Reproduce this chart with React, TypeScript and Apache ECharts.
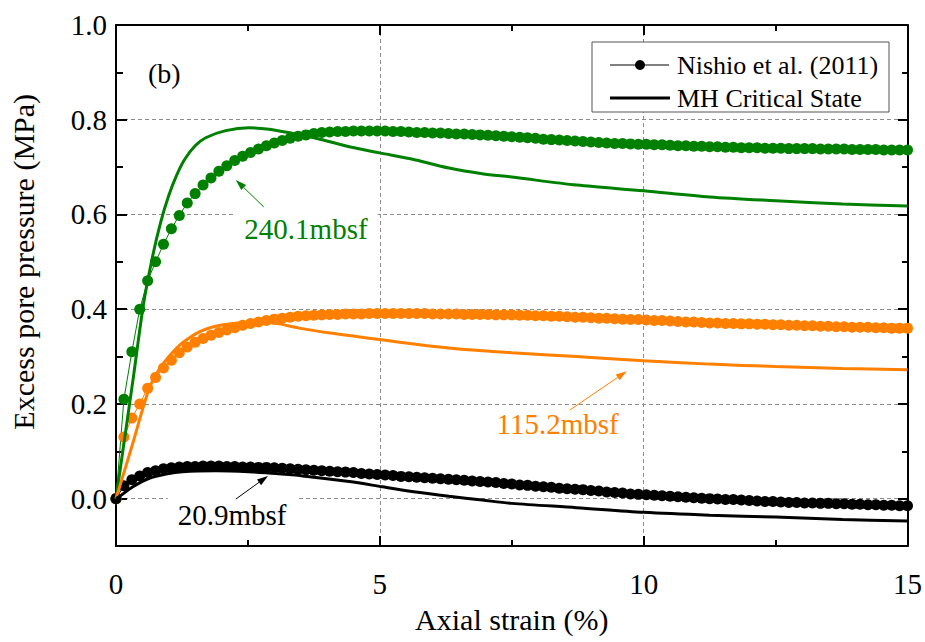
import { useEffect, useRef } from "react";
import * as echarts from "echarts";

// Axial strain (%) at which the Nishio et al. (2011) test readings were logged
const strainTest = [
  0, 0.15, 0.3, 0.45, 0.6, 0.75, 0.9, 1.05, 1.2, 1.35,
  1.5, 1.65, 1.8, 1.95, 2.1, 2.25, 2.4, 2.55, 2.7, 2.85,
  3, 3.15, 3.3, 3.45, 3.6, 3.75, 3.9, 4.05, 4.2, 4.35,
  4.5, 4.65, 4.8, 4.95, 5.1, 5.25, 5.4, 5.55, 5.7, 5.85,
  6, 6.15, 6.3, 6.45, 6.6, 6.75, 6.9, 7.05, 7.2, 7.35,
  7.5, 7.65, 7.8, 7.95, 8.1, 8.25, 8.4, 8.55, 8.7, 8.85,
  9, 9.15, 9.3, 9.45, 9.6, 9.75, 9.9, 10.05, 10.2, 10.35,
  10.5, 10.65, 10.8, 10.95, 11.1, 11.25, 11.4, 11.55, 11.7, 11.85,
  12, 12.15, 12.3, 12.45, 12.6, 12.75, 12.9, 13.05, 13.2, 13.35,
  13.5, 13.65, 13.8, 13.95, 14.1, 14.25, 14.4, 14.55, 14.7, 14.85,
  15,
];

// Measured excess pore pressure (MPa), 240.1 mbsf
const test240 = [
  0, 0.21, 0.31, 0.4, 0.46, 0.5, 0.537, 0.57, 0.598, 0.624,
  0.644, 0.662, 0.677, 0.691, 0.703, 0.714, 0.723, 0.731, 0.738, 0.745,
  0.751, 0.756, 0.761, 0.765, 0.768, 0.771, 0.773, 0.774, 0.775, 0.775,
  0.776, 0.776, 0.776, 0.776, 0.776, 0.775, 0.775, 0.774, 0.773, 0.773,
  0.772, 0.772, 0.771, 0.77, 0.77, 0.769, 0.768, 0.767, 0.766, 0.765,
  0.764, 0.763, 0.762, 0.761, 0.759, 0.758, 0.757, 0.756, 0.755, 0.754,
  0.753, 0.752, 0.751, 0.75, 0.75, 0.749, 0.748, 0.748, 0.747, 0.747,
  0.746, 0.745, 0.745, 0.744, 0.744, 0.743, 0.743, 0.742, 0.742, 0.741,
  0.741, 0.741, 0.74, 0.74, 0.74, 0.739, 0.739, 0.739, 0.739, 0.738,
  0.738, 0.738, 0.738, 0.737, 0.737, 0.737, 0.737, 0.736, 0.736, 0.736,
  0.736,
];

// Measured excess pore pressure (MPa), 115.2 mbsf
const test115 = [
  0, 0.13, 0.17, 0.2, 0.233, 0.256, 0.276, 0.292, 0.308, 0.32,
  0.33, 0.338, 0.345, 0.351, 0.356, 0.361, 0.366, 0.37, 0.373, 0.376,
  0.379, 0.381, 0.383, 0.385, 0.386, 0.387, 0.388, 0.389, 0.389, 0.39,
  0.39, 0.39, 0.391, 0.391, 0.391, 0.391, 0.391, 0.391, 0.391, 0.391,
  0.39, 0.39, 0.39, 0.39, 0.389, 0.389, 0.389, 0.389, 0.388, 0.388,
  0.388, 0.387, 0.387, 0.386, 0.386, 0.385, 0.385, 0.384, 0.383, 0.383,
  0.382, 0.381, 0.381, 0.38, 0.379, 0.378, 0.378, 0.377, 0.376, 0.376,
  0.375, 0.374, 0.373, 0.373, 0.372, 0.371, 0.371, 0.37, 0.37, 0.369,
  0.369, 0.368, 0.368, 0.367, 0.367, 0.366, 0.366, 0.365, 0.365, 0.364,
  0.364, 0.363, 0.363, 0.362, 0.362, 0.362, 0.361, 0.361, 0.36, 0.36,
  0.36,
];

// Measured excess pore pressure (MPa), 20.9 mbsf
const test209 = [
  0, 0.027, 0.04, 0.048, 0.055, 0.059, 0.063, 0.065, 0.067, 0.068,
  0.068, 0.069, 0.069, 0.069, 0.068, 0.068, 0.067, 0.067, 0.066, 0.066,
  0.065, 0.064, 0.063, 0.062, 0.061, 0.06, 0.059, 0.058, 0.057, 0.056,
  0.055, 0.053, 0.052, 0.051, 0.05, 0.049, 0.047, 0.046, 0.045, 0.044,
  0.043, 0.042, 0.041, 0.04, 0.039, 0.037, 0.036, 0.035, 0.034, 0.032,
  0.031, 0.029, 0.028, 0.026, 0.025, 0.024, 0.022, 0.021, 0.02, 0.019,
  0.017, 0.016, 0.014, 0.013, 0.012, 0.01, 0.009, 0.008, 0.007, 0.006,
  0.005, 0.004, 0.003, 0.002, 0.001, 0, -0.001, -0.002, -0.002, -0.003,
  -0.004, -0.005, -0.006, -0.006, -0.007, -0.008, -0.008, -0.009, -0.009, -0.01,
  -0.01, -0.011, -0.011, -0.012, -0.012, -0.013, -0.013, -0.014, -0.014, -0.015,
  -0.015,
];

// MH Critical State model predictions
const mhStrain240 = [0, 0.33, 0.52, 0.7, 0.85, 1.0, 1.15, 1.3, 1.5, 1.7, 2.08, 2.52, 2.9, 3.35, 3.79, 4.42, 5, 5.68, 6.31, 6.94, 7.5, 8.73, 10, 11.25, 12.5, 13.77, 15];
const mh240 = [0, 0.257, 0.41, 0.515, 0.585, 0.64, 0.683, 0.716, 0.745, 0.762, 0.777, 0.783, 0.78, 0.771, 0.761, 0.743, 0.73, 0.715, 0.698, 0.686, 0.679, 0.662, 0.65, 0.637, 0.629, 0.622, 0.618];

const mhStrain115 = [0, 0.3, 0.62, 0.8, 0.95, 1.1, 1.26, 1.58, 1.89, 2.21, 2.52, 2.84, 3.09, 3.47, 4.1, 5, 5.68, 6.31, 6.94, 7.5, 8.73, 10, 11.25, 12.5, 13.77, 15];
const mh115 = [0, 0.11, 0.23, 0.27, 0.293, 0.312, 0.329, 0.352, 0.364, 0.37, 0.372, 0.372, 0.369, 0.36, 0.349, 0.336, 0.326, 0.318, 0.312, 0.308, 0.3, 0.291, 0.284, 0.279, 0.275, 0.272];

const mhStrain209 = [0, 0.06, 0.32, 0.63, 0.95, 1.26, 1.89, 2.52, 2.9, 3.54, 4.42, 5.05, 5.68, 6.31, 6.94, 7.5, 8.73, 10, 11.25, 12.5, 13.77, 15];
const mh209 = [0, 0.004, 0.025, 0.043, 0.052, 0.057, 0.059, 0.057, 0.054, 0.048, 0.036, 0.025, 0.014, 0.005, -0.003, -0.01, -0.019, -0.029, -0.035, -0.039, -0.044, -0.047];

const depthLabels = ["240.1mbsf", "115.2mbsf", "20.9mbsf"];
const legendNames = ["Nishio et al. (2011)", "MH Critical State"];

const GREEN = "#008000";
const ORANGE = "#ff8000";
const BLACK = "#000000";
const SERIF = "Liberation Serif, Times New Roman, serif";

const zip = (xs: number[], ys: number[]) => xs.map((x, i) => [x, ys[i]]);

// Label / arrow placement in data space
const notes = [
  { text: depthLabels[0], color: GREEN, at: [3.6, 0.569], tail: [2.8, 0.616], tip: [2.27, 0.673] },
  { text: depthLabels[1], color: ORANGE, at: [8.37, 0.157], tail: [8.6, 0.187], tip: [9.68, 0.269] },
  { text: depthLabels[2], color: BLACK, at: [2.2, -0.035], tail: [2.27, -0.001], tip: [2.88, 0.048] },
];

export default function App() {
  const ref = useRef<HTMLDivElement>(null);

  useEffect(() => {
    document.body.style.margin = "0";
    if (!ref.current) return;
    const chart = echarts.init(ref.current, null, { renderer: "svg" });

    const axisLine = { show: true, onZero: false, lineStyle: { color: "#000", width: 2 } };
    const tick = { show: true, inside: true, length: 10, lineStyle: { color: "#000", width: 2 } };
    const minor = { show: true, splitNumber: 2, length: 6, lineStyle: { color: "#000", width: 2 } };
    const grid = { show: true, lineStyle: { color: "#8c8c8c", width: 1, type: [4, 3] } };
    const labelFont = { fontSize: 29, fontFamily: SERIF, color: "#000" };
    const nameFont = { fontSize: 30, fontFamily: SERIF, color: "#000" };

    const testSeries = (data: number[], color: string) => ({
      type: "line",
      name: legendNames[0],
      xAxisIndex: 0,
      yAxisIndex: 0,
      data: zip(strainTest, data),
      symbol: "circle",
      symbolSize: 11,
      showSymbol: true,
      lineStyle: { color, width: 1 },
      itemStyle: { color },
      silent: true,
      z: 2,
    });
    const modelSeries = (xs: number[], ys: number[], color: string) => ({
      type: "line",
      name: legendNames[1],
      xAxisIndex: 0,
      yAxisIndex: 0,
      data: zip(xs, ys),
      symbol: "none",
      smooth: 0.3,
      lineStyle: { color, width: 3 },
      itemStyle: { color },
      silent: true,
      z: 3,
    });

    chart.setOption({
      animation: false,
      backgroundColor: "#fff",
      grid: [
        { left: 116, top: 25, right: 17, bottom: 96 },
        { left: 116, top: 25, right: 17, bottom: 642 - (25 + 521 / 1.1) },
      ],
      xAxis: [
        {
          gridIndex: 0, type: "value", position: "bottom", min: 0, max: 15, interval: 5,
          axisLine, axisTick: tick, minorTick: minor, splitLine: grid,
          axisLabel: { ...labelFont, margin: 23 },
          name: "Axial strain (%)", nameLocation: "middle", nameGap: 58, nameTextStyle: nameFont,
        },
        {
          gridIndex: 0, type: "value", position: "top", min: 0, max: 15, interval: 5,
          axisLine, axisTick: tick, minorTick: minor, splitLine: { show: false }, axisLabel: { show: false },
        },
        { gridIndex: 1, type: "value", min: 0, max: 15, show: false },
      ],
      yAxis: [
        {
          gridIndex: 0, type: "value", position: "left", min: -0.1, max: 1.0,
          axisLine, axisTick: { show: false }, axisLabel: { show: false }, splitLine: { show: false },
        },
        {
          gridIndex: 0, type: "value", position: "right", min: -0.1, max: 1.0,
          axisLine, axisTick: { show: false }, axisLabel: { show: false }, splitLine: { show: false },
        },
        {
          gridIndex: 1, type: "value", position: "left", min: 0, max: 1.0, interval: 0.2,
          axisLine: { show: false, onZero: false }, axisTick: tick, minorTick: minor, splitLine: grid,
          axisLabel: { ...labelFont, margin: 10, formatter: (v: number) => v.toFixed(1) },
          name: "Excess pore pressure (MPa)", nameLocation: "middle", nameGap: 79, nameTextStyle: nameFont,
        },
        {
          gridIndex: 1, type: "value", position: "right", min: 0, max: 1.0, interval: 0.2,
          axisLine: { show: false, onZero: false }, axisTick: tick, minorTick: minor,
          splitLine: { show: false }, axisLabel: { show: false },
        },
      ],
      series: [
        testSeries(test240, GREEN),
        testSeries(test115, ORANGE),
        testSeries(test209, BLACK),
        modelSeries(mhStrain240, mh240, GREEN),
        modelSeries(mhStrain115, mh115, ORANGE),
        modelSeries(mhStrain209, mh209, BLACK),
      ],
    });

    const px = (p: number[]) => chart.convertToPixel({ xAxisIndex: 0, yAxisIndex: 0 }, p) as number[];

    const graphics: any[] = [];
    notes.forEach((n) => {
      const c = px(n.at);
      const a = px(n.tail);
      const b = px(n.tip);
      const dx = b[0] - a[0];
      const dy = b[1] - a[1];
      const len = Math.hypot(dx, dy);
      const ux = dx / len;
      const uy = dy / len;
      const L = 11;
      const W = 3.5;
      const bx = b[0] - ux * L;
      const by = b[1] - uy * L;
      graphics.push({
        type: "text", z: 10,
        style: {
          text: n.text, x: c[0], y: c[1], align: "center", verticalAlign: "middle",
          fill: n.color, fontSize: 29, fontFamily: SERIF, backgroundColor: "#fff", padding: [3, 10],
        },
      });
      graphics.push({
        type: "line", z: 11,
        shape: { x1: a[0], y1: a[1], x2: bx, y2: by },
        style: { stroke: n.color, lineWidth: 1 },
      });
      graphics.push({
        type: "polygon", z: 11,
        shape: { points: [[b[0], b[1]], [bx - uy * W, by + ux * W], [bx + uy * W, by - ux * W]] },
        style: { fill: n.color },
      });
    });

    const tag = px([0.606, 0.8966]);
    graphics.push({
      type: "text", z: 10,
      style: { text: "(b)", x: tag[0], y: tag[1], align: "left", verticalAlign: "middle", fill: "#000", fontSize: 28, fontFamily: SERIF },
    });

    // Legend box
    const lx = 592;
    const ly = 42;
    graphics.push({
      type: "group", z: 12,
      children: [
        { type: "rect", shape: { x: lx, y: ly, width: 297, height: 70 }, style: { fill: "#fff", stroke: "#555", lineWidth: 1 } },
        { type: "line", shape: { x1: lx + 18, y1: ly + 23, x2: lx + 77, y2: ly + 23 }, style: { stroke: "#000", lineWidth: 1 } },
        { type: "circle", shape: { cx: lx + 48, cy: ly + 23, r: 5 }, style: { fill: "#000" } },
        { type: "text", style: { text: legendNames[0], x: lx + 85, y: ly + 23, align: "left", verticalAlign: "middle", fill: "#000", fontSize: 26, fontFamily: SERIF } },
        { type: "line", shape: { x1: lx + 18, y1: ly + 56, x2: lx + 78, y2: ly + 56 }, style: { stroke: "#000", lineWidth: 3 } },
        { type: "text", style: { text: legendNames[1], x: lx + 85, y: ly + 56, align: "left", verticalAlign: "middle", fill: "#000", fontSize: 26, fontFamily: SERIF } },
      ],
    });

    chart.setOption({ graphic: graphics });

    return () => chart.dispose();
  }, []);

  return <div ref={ref} style={{ width: 925, height: 642 }} />;
}
